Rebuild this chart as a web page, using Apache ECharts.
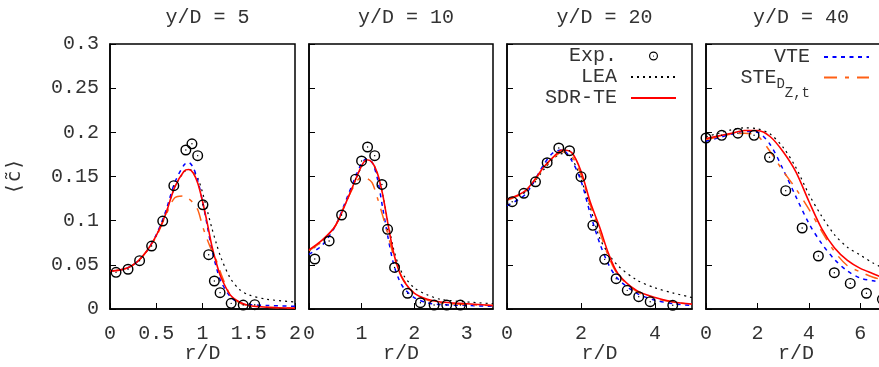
<!DOCTYPE html>
<html><head><meta charset="utf-8">
<script src="https://cdn.jsdelivr.net/npm/echarts@6/dist/echarts.min.js"></script>
<style>html,body{margin:0;padding:0;background:#fff}#c{width:879px;height:367px}</style>
</head><body><div id="c"></div>
<script>
// ---- panel settings ----
const titles = ['y/D = 5', 'y/D = 10', 'y/D = 20', 'y/D = 40'];
const xMax = [2, 3.5, 5, 7];
const xStep = [0.5, 1, 2, 2];

// ---- panel 1 (y/D = 5) ----
const r1   = [0,0.1,0.2,0.3,0.4,0.5,0.6,0.7,0.8,0.85,0.9,0.95,1.0,1.05,1.1,1.15,1.2,1.3,1.4,1.5,1.7,2.0];
const sdr1 = [0.043,0.044,0.047,0.054,0.066,0.083,0.107,0.138,0.156,0.158,0.154,0.142,0.122,0.098,0.072,0.052,0.036,0.016,0.008,0.004,0.002,0.001];
const vte1 = [0.043,0.044,0.047,0.054,0.066,0.084,0.110,0.143,0.163,0.166,0.160,0.145,0.122,0.095,0.068,0.047,0.031,0.014,0.007,0.005,0.004,0.003];
const lea1 = [0.043,0.044,0.047,0.054,0.066,0.083,0.107,0.138,0.155,0.158,0.156,0.148,0.132,0.112,0.092,0.074,0.058,0.035,0.022,0.016,0.011,0.008];
const ste1 = [0.043,0.044,0.047,0.054,0.066,0.082,0.105,0.126,0.128,0.125,0.120,0.112,0.094,0.079,0.066,0.055,0.040,0.016,0.007,0.004,0.002,0.001];
const expR1 = [0.065,0.195,0.32,0.45,0.57,0.69,0.82,0.886,0.948,1.005,1.067,1.128,1.19,1.31,1.44,1.565];
const expC1 = [0.0415,0.045,0.0547,0.0713,0.0996,0.1396,0.18,0.187,0.1736,0.118,0.0615,0.0317,0.0185,0.0064,0.0045,0.0049];

// ---- panel 2 (y/D = 10) ----
const r2   = [0,0.25,0.5,0.75,1.0,1.1,1.2,1.3,1.4,1.5,1.6,1.7,1.8,2.0,2.25,2.5,3.0,3.5];
const sdr2 = [0.067,0.078,0.094,0.127,0.162,0.169,0.166,0.154,0.130,0.097,0.066,0.045,0.032,0.018,0.011,0.008,0.006,0.004];
const vte2 = [0.062,0.072,0.094,0.130,0.165,0.170,0.166,0.148,0.115,0.082,0.053,0.035,0.024,0.013,0.007,0.005,0.004,0.003];
const lea2 = [0.065,0.077,0.094,0.127,0.161,0.168,0.166,0.153,0.130,0.099,0.070,0.050,0.038,0.024,0.016,0.011,0.008,0.006];
const ste2 = [0.066,0.077,0.094,0.127,0.149,0.148,0.143,0.126,0.106,0.085,0.062,0.045,0.033,0.018,0.010,0.007,0.005,0.004];
const expR2 = [0.11,0.383,0.62,0.885,1.0,1.114,1.25,1.387,1.495,1.628,1.875,2.12,2.38,2.62,2.88];
const expC2 = [0.0566,0.077,0.1064,0.147,0.1676,0.1834,0.1736,0.141,0.0902,0.047,0.0178,0.0071,0.0045,0.0045,0.0045];

// ---- panel 3 (y/D = 20) ----
const r3   = [0,0.5,1.0,1.25,1.5,1.75,2.0,2.25,2.5,2.75,3.0,3.5,4.0,4.5,5.0];
const sdr3 = [0.124,0.134,0.161,0.172,0.180,0.177,0.156,0.121,0.093,0.062,0.040,0.021,0.013,0.008,0.0055];
const vte3 = [0.117,0.130,0.164,0.177,0.180,0.168,0.145,0.108,0.075,0.050,0.034,0.018,0.010,0.006,0.004];
const lea3 = [0.124,0.133,0.158,0.170,0.176,0.170,0.147,0.115,0.081,0.062,0.049,0.033,0.024,0.018,0.013];
const ste3 = [0.123,0.133,0.160,0.171,0.178,0.173,0.152,0.118,0.088,0.059,0.039,0.020,0.012,0.008,0.005];
const expR3 = [0.14,0.455,0.77,1.085,1.40,1.69,2.0,2.32,2.64,2.95,3.25,3.56,3.87,4.48];
const expC3 = [0.1215,0.131,0.144,0.1656,0.1823,0.1792,0.1498,0.0947,0.0562,0.0343,0.0211,0.014,0.0083,0.0042];

// ---- panel 4 (y/D = 40) ----
const r4   = [0,0.5,1,1.5,2,2.5,3,3.5,4,4.5,5,5.5,6,6.5,7];
const sdr4 = [0.193,0.196,0.199,0.202,0.202,0.195,0.178,0.155,0.122,0.091,0.069,0.055,0.046,0.040,0.034];
const vte4 = [0.190,0.194,0.198,0.201,0.200,0.186,0.158,0.127,0.097,0.074,0.056,0.043,0.035,0.032,0.029];
const lea4 = [0.195,0.199,0.203,0.205,0.204,0.198,0.183,0.160,0.130,0.105,0.084,0.070,0.061,0.052,0.045];
const ste4 = [0.192,0.195,0.198,0.199,0.196,0.178,0.156,0.136,0.113,0.088,0.065,0.049,0.042,0.036,0.032];
const expR4 = [0,0.61,1.24,1.87,2.47,3.1,3.74,4.37,4.99,5.61,6.24,6.86];
const expC4 = [0.1936,0.1966,0.199,0.1966,0.1717,0.134,0.0917,0.060,0.0411,0.029,0.0178,0.011];

const panels = [
  {r:r1, sdr:sdr1, vte:vte1, lea:lea1, ste:ste1, er:expR1, ec:expC1},
  {r:r2, sdr:sdr2, vte:vte2, lea:lea2, ste:ste2, er:expR2, ec:expC2},
  {r:r3, sdr:sdr3, vte:vte3, lea:lea3, ste:ste3, er:expR3, ec:expC3},
  {r:r4, sdr:sdr4, vte:vte4, lea:lea4, ste:ste4, er:expR4, ec:expC4}
];

const FONT = '"Liberation Mono", "DejaVu Sans Mono", monospace';
const TXT = '#333';
const gridPos = [{left:110,width:185},{left:309,width:184},{left:507,width:185},{left:706,width:180}];
const ringPath = 'path://M0,10A10,10,0,1,1,20,10A10,10,0,1,1,0,10ZM2.6,10A7.4,7.4,0,1,0,17.4,10A7.4,7.4,0,1,0,2.6,10ZM8.7,10A1.3,1.3,0,1,1,11.3,10A1.3,1.3,0,1,1,8.7,10Z';

const grids = [], xAxes = [], yAxes = [], series = [], titleOpts = [];
const pair = (xs, ys) => xs.map((x, j) => [x, ys[j]]);

gridPos.forEach((g, i) => {
  grids.push({left:g.left, width:g.width, top:44, height:265, show:true, borderColor:'#000', borderWidth:1.5,
    backgroundColor:'transparent', containLabel:false, outerBoundsMode:'none'});
  titleOpts.push({text:titles[i], left:g.left + g.width/2, top:3, textAlign:'center',
    textStyle:{fontFamily:FONT, fontSize:20, fontWeight:'normal', color:TXT}});
  xAxes.push({type:'value', gridIndex:i, min:0, max:xMax[i], interval:xStep[i],
    name:'r/D', nameLocation:'middle', nameGap:35, nameMoveOverlap:false,
    nameTextStyle:{fontFamily:FONT, fontSize:20, color:TXT},
    axisLine:{show:true, lineStyle:{color:'#000', width:1.5}},
    axisTick:{show:true, inside:true, length:6, lineStyle:{color:'#000', width:1}},
    axisLabel:{fontFamily:FONT, fontSize:20, color:TXT, margin:15, showMinLabel:true, showMaxLabel:i===0, hideOverlap:false},
    splitLine:{show:false}});
  yAxes.push({type:'value', gridIndex:i, min:0, max:0.3, interval:0.05,
    name: i===0 ? '⟨c̃⟩' : '', nameLocation:'middle', nameGap:85, nameRotate:90, nameMoveOverlap:false,
    nameTextStyle:{fontFamily:'"DejaVu Sans Mono", "DejaVu Sans", monospace', fontSize:20, color:TXT},
    axisLine:{show:true, lineStyle:{color:'#000', width:1.5}},
    axisTick:{show:true, inside:true, length:6, lineStyle:{color:'#000', width:1}},
    axisLabel:{show:i===0, fontFamily:FONT, fontSize:20, color:TXT, margin:11, showMinLabel:true, showMaxLabel:true, padding:[3,0,0,0]},
    splitLine:{show:false}});
  const p = panels[i];
  const base = {type:'line', xAxisIndex:i, yAxisIndex:i, showSymbol:false, symbol:'none', smooth:0.3, animation:false};
  series.push(Object.assign({}, base, {name:'LEA', data:pair(p.r, p.lea), z:2,
    lineStyle:{color:'#000', width:1.2, type:[2,4]}, itemStyle:{color:'#000'}}));
  series.push(Object.assign({}, base, {name:'VTE', data:pair(p.r, p.vte), z:3,
    lineStyle:{color:'#0000ff', width:1.5, type:[4,4.5]}, itemStyle:{color:'#0000ff'}}));
  series.push(Object.assign({}, base, {name:'STE', data:pair(p.r, p.ste), z:4,
    lineStyle:{color:'#ff6015', width:1.5, type:[13,8,4,8]}, itemStyle:{color:'#ff6015'}}));
  series.push(Object.assign({}, base, {name:'SDR-TE', data:pair(p.r, p.sdr), z:5,
    lineStyle:{color:'#ff0000', width:1.6, type:'solid'}, itemStyle:{color:'#ff0000'}}));
  series.push({type:'scatter', name:'Exp.', xAxisIndex:i, yAxisIndex:i, data:pair(p.er, p.ec),
    symbol:ringPath, symbolSize:11, symbolKeepAspect:true, z:6, animation:false,
    itemStyle:{color:'#000', opacity:1}});
});

const legText = {fontFamily:FONT, fontSize:20, color:TXT, lineHeight:21, padding:[0,9,0,0]};
const legBase = {orient:'vertical', align:'right', itemWidth:45, itemHeight:9, itemGap:0,
  selectedMode:false, padding:0, inactiveColor:'#000', symbolKeepAspect:true};
const noSym = {opacity:0};

const option = {
  backgroundColor:'#fff',
  animation:false,
  title: titleOpts,
  grid: grids,
  xAxis: xAxes,
  yAxis: yAxes,
  legend: [
    Object.assign({}, legBase, {data:[{name:'Exp.'}, {name:'LEA', itemStyle:noSym}, {name:'SDR-TE', itemStyle:noSym}],
      right:202, top:45.5, textStyle:legText}),
    Object.assign({}, legBase, {data:[{name:'VTE', itemStyle:noSym}], right:9, top:46.5, textStyle:legText}),
    Object.assign({}, legBase, {data:[{name:'STE', itemStyle:noSym}], right:9, top:67,
      formatter: () => 'STE{d|D}{z|Z,t}',
      textStyle:Object.assign({}, legText, {rich:{
        d:{fontFamily:FONT, fontSize:14, color:TXT, padding:[14,0,0,0], verticalAlign:'middle'},
        z:{fontFamily:FONT, fontSize:14, color:TXT, padding:[32,0,0,0], verticalAlign:'middle'}
      }})})
  ],
  series: series
};

const chart = echarts.init(document.getElementById('c'), null, {renderer:'canvas'});
chart.setOption(option);
</script>
</body></html>
